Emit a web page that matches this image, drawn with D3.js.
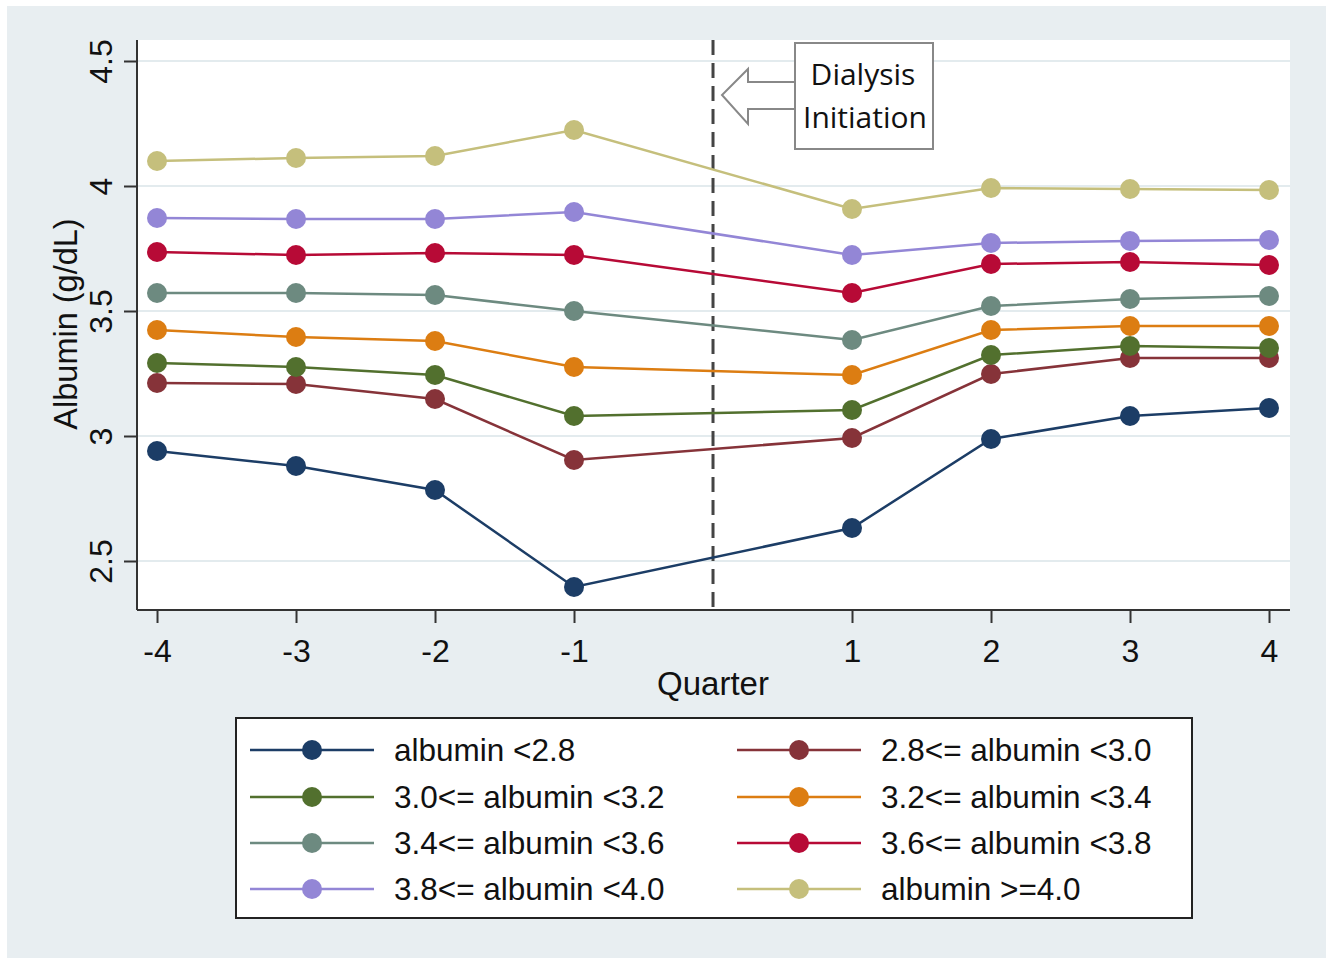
<!DOCTYPE html>
<html lang="en">
  <head>
    <meta charset="UTF-8" />
    <title>Albumin by quarter</title>
    <script src="https://d3js.org/d3.v7.min.js"></script>
    <style>
      body { margin: 0; background: #fff; }
      text { font-family: "Liberation Sans", Arial, sans-serif; fill: #111; }
    </style>
  </head>
  <body>
    <div id="chart"></div>
    <script>
      const quarters = [-4, -3, -2, -1, 1, 2, 3, 4];
      const xTicks = [-4, -3, -2, -1, 1, 2, 3, 4];
      const yTicks = [2.5, 3, 3.5, 4, 4.5];

      const labels = [
        'albumin <2.8', '2.8<= albumin <3.0', '3.0<= albumin <3.2', '3.2<= albumin <3.4',
        '3.4<= albumin <3.6', '3.6<= albumin <3.8', '3.8<= albumin <4.0', 'albumin >=4.0'
      ];
      const colors = ['#1c3d66', '#863339', '#52702e', '#dc7d12', '#6d8a80', '#b70a36', '#9386d6', '#c5bf7c'];

      const alb_lt28 = [2.94, 2.88, 2.784, 2.396, 2.632, 2.988, 3.08, 3.112];
      const alb_28_30 = [3.212, 3.208, 3.148, 2.904, 2.992, 3.248, 3.312, 3.312];
      const alb_30_32 = [3.292, 3.276, 3.244, 3.08, 3.104, 3.324, 3.36, 3.352];
      const alb_32_34 = [3.424, 3.396, 3.38, 3.276, 3.244, 3.424, 3.44, 3.44];
      const alb_34_36 = [3.572, 3.572, 3.564, 3.5, 3.384, 3.52, 3.548, 3.56];
      const alb_36_38 = [3.736, 3.724, 3.732, 3.724, 3.572, 3.688, 3.696, 3.684];
      const alb_38_40 = [3.872, 3.868, 3.868, 3.896, 3.724, 3.772, 3.78, 3.784];
      const alb_ge40 = [4.1, 4.112, 4.12, 4.224, 3.908, 3.992, 3.988, 3.984];

      const series = [alb_lt28, alb_28_30, alb_30_32, alb_32_34, alb_34_36, alb_36_38, alb_38_40, alb_ge40];

      const W = 1332, H = 962;
      const plot = { left: 137, right: 1290, top: 40, bottom: 610 };

      const svg = d3.select('#chart').append('svg').attr('width', W).attr('height', H);

      // graph region
      svg.append('rect').attr('x', 7).attr('y', 6).attr('width', 1319).attr('height', 952).attr('fill', '#e8eef1');
      svg.append('rect')
        .attr('x', plot.left).attr('y', plot.top)
        .attr('width', plot.right - plot.left).attr('height', plot.bottom - plot.top)
        .attr('fill', '#fff');

      const x = d3.scaleLinear().domain([-4.144, 4.151]).range([plot.left, plot.right]);
      const y = d3.scaleLinear().domain([2.304, 4.584]).range([plot.bottom, plot.top]);

      // grid
      svg.append('g').selectAll('line').data(yTicks).join('line')
        .attr('x1', plot.left).attr('x2', plot.right)
        .attr('y1', (d) => y(d)).attr('y2', (d) => y(d))
        .attr('stroke', '#e3ebee').attr('stroke-width', 2);

      // axes
      const yAxis = svg.append('g')
        .attr('transform', 'translate(' + plot.left + ',0)')
        .call(d3.axisLeft(y).tickValues(yTicks).tickSize(13).tickFormat((d) => String(d)));
      yAxis.select('.domain').attr('d', 'M0,' + plot.top + 'V' + plot.bottom);
      yAxis.selectAll('text')
        .attr('x', 0).attr('y', 0).attr('dy', null)
        .attr('transform', 'translate(-25,0) rotate(-90)')
        .style('text-anchor', 'middle')
        .style('font-size', '32px');

      const xAxis = svg.append('g')
        .attr('transform', 'translate(0,' + plot.bottom + ')')
        .call(d3.axisBottom(x).tickValues(xTicks).tickSize(13).tickFormat((d) => String(d)));
      xAxis.select('.domain').attr('d', 'M' + plot.left + ',0H' + plot.right);
      xAxis.selectAll('text').attr('y', 52).attr('dy', null).style('font-size', '32px');

      svg.selectAll('.domain, .tick line').attr('stroke', '#333').attr('stroke-width', 2);
      svg.selectAll('.tick text').attr('fill', '#111');

      svg.append('text')
        .attr('transform', 'translate(77,324) rotate(-90)')
        .attr('text-anchor', 'middle').style('font-size', '32.5px')
        .text('Albumin (g/dL)');
      svg.append('text')
        .attr('x', x(0)).attr('y', 695)
        .attr('text-anchor', 'middle').style('font-size', '33px')
        .text('Quarter');

      // dialysis initiation marker
      svg.append('line')
        .attr('x1', x(0)).attr('x2', x(0))
        .attr('y1', plot.top).attr('y2', plot.bottom)
        .attr('stroke', '#444').attr('stroke-width', 3).attr('stroke-dasharray', '15,8');

      // lines and points
      const line = d3.line().x((d, i) => x(quarters[i])).y((d) => y(d));
      series.forEach((vals, s) => {
        const g = svg.append('g');
        g.append('path').datum(vals)
          .attr('d', line).attr('fill', 'none')
          .attr('stroke', colors[s]).attr('stroke-width', 2.5);
        g.selectAll('circle').data(vals).join('circle')
          .attr('cx', (d, i) => x(quarters[i])).attr('cy', (d) => y(d))
          .attr('r', 10).attr('fill', colors[s]);
      });

      // annotation box with hollow arrow
      const ann = svg.append('g');
      ann.append('path')
        .attr('d', 'M795,82 H748 V69 L722,95 L748,124 V109 H795')
        .attr('fill', '#fff').attr('stroke', '#888').attr('stroke-width', 2);
      ann.append('rect')
        .attr('x', 795).attr('y', 43).attr('width', 138).attr('height', 106)
        .attr('fill', '#fff').attr('stroke', '#888').attr('stroke-width', 2);
      ann.append('text').attr('x', 863).attr('y', 85).attr('text-anchor', 'middle')
        .style('font-family', '"Open Sans", sans-serif').style('font-size', '30px').text('Dialysis');
      ann.append('text').attr('x', 865).attr('y', 128).attr('text-anchor', 'middle')
        .style('font-family', '"Open Sans", sans-serif').style('font-size', '30px').text('Initiation');

      // legend
      const lg = svg.append('g');
      lg.append('rect')
        .attr('x', 236).attr('y', 718).attr('width', 956).attr('height', 200)
        .attr('fill', '#fff').attr('stroke', '#222').attr('stroke-width', 2);
      const rowY = [750, 797, 843, 889];
      const colX = [250, 737];
      labels.forEach((lab, s) => {
        const cx = colX[s % 2];
        const cy = rowY[Math.floor(s / 2)];
        lg.append('line')
          .attr('x1', cx).attr('x2', cx + 124).attr('y1', cy).attr('y2', cy)
          .attr('stroke', colors[s]).attr('stroke-width', 2.5);
        lg.append('circle').attr('cx', cx + 62).attr('cy', cy).attr('r', 10).attr('fill', colors[s]);
        lg.append('text')
          .attr('x', cx + 144).attr('y', cy + 11)
          .style('font-size', '31.5px').text(lab);
      });
    </script>
  </body>
</html>
